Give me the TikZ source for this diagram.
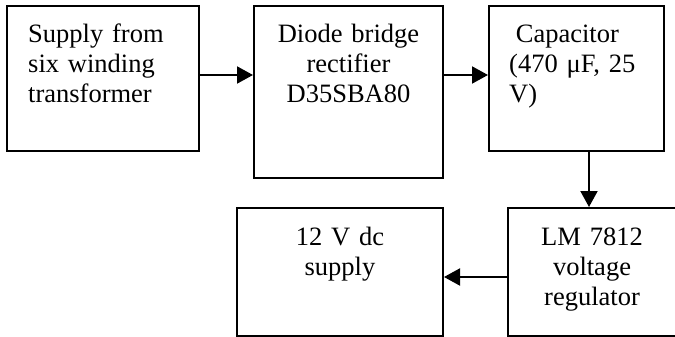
\documentclass[tikz,border=0pt]{standalone}
\usepackage{fontspec}
\setmainfont{Liberation Serif}
\usetikzlibrary{arrows.meta}
\begin{document}
\begin{tikzpicture}[x=1pt,y=-1pt,
  box/.style={draw, line width=2pt, rectangle, inner sep=0pt},
  txt/.style={inner sep=0pt, font=\fontsize{26.5pt}{30pt}\selectfont},
  arr/.style={line width=2pt, -{Triangle[length=16pt,width=17pt]}}]
\path[use as bounding box] (0,0) rectangle (675,337);
\clip (0,0) rectangle (675,337);
\node[box, minimum width=192, minimum height=145] (a) at (103,78.5) {};
\node[box, minimum width=189, minimum height=172] (b) at (348.5,92) {};
\node[box, minimum width=175, minimum height=145] (c) at (576.5,78.5) {};
\node[box, minimum width=168, minimum height=128] (d) at (592,272) {};
\node[box, minimum width=206, minimum height=128] (e) at (340,272) {};
\node[txt, anchor=base west, text width=170, align=left] (at) at (28,43) {Supply from\\six winding\\transformer};
\node[txt, anchor=base, text width=185, align=center] (bt) at (348.5,43) {Diode bridge\\rectifier\\D35SBA80};
\node[txt, anchor=base west, text width=160, align=left] (ct) at (509,43) {\hspace*{0.25em}Capacitor\\(470 μF, 25\\V)};
\node[txt, anchor=base, text width=165, align=center] (dt) at (592,245) {LM 7812\\voltage\\regulator};
\node[txt, anchor=base, text width=200, align=center] (et) at (340,245) {12 V dc\\supply};
\draw[arr] (a.east |- 0,75) -- (b.west |- 0,75);
\draw[arr] (b.east |- 0,75) -- (c.west |- 0,75);
\draw[arr] (c.south -| 589,0) -- (d.north -| 589,0);
\draw[arr] (d.west |- 0,277) -- (e.east |- 0,277);
\end{tikzpicture}
\end{document}
